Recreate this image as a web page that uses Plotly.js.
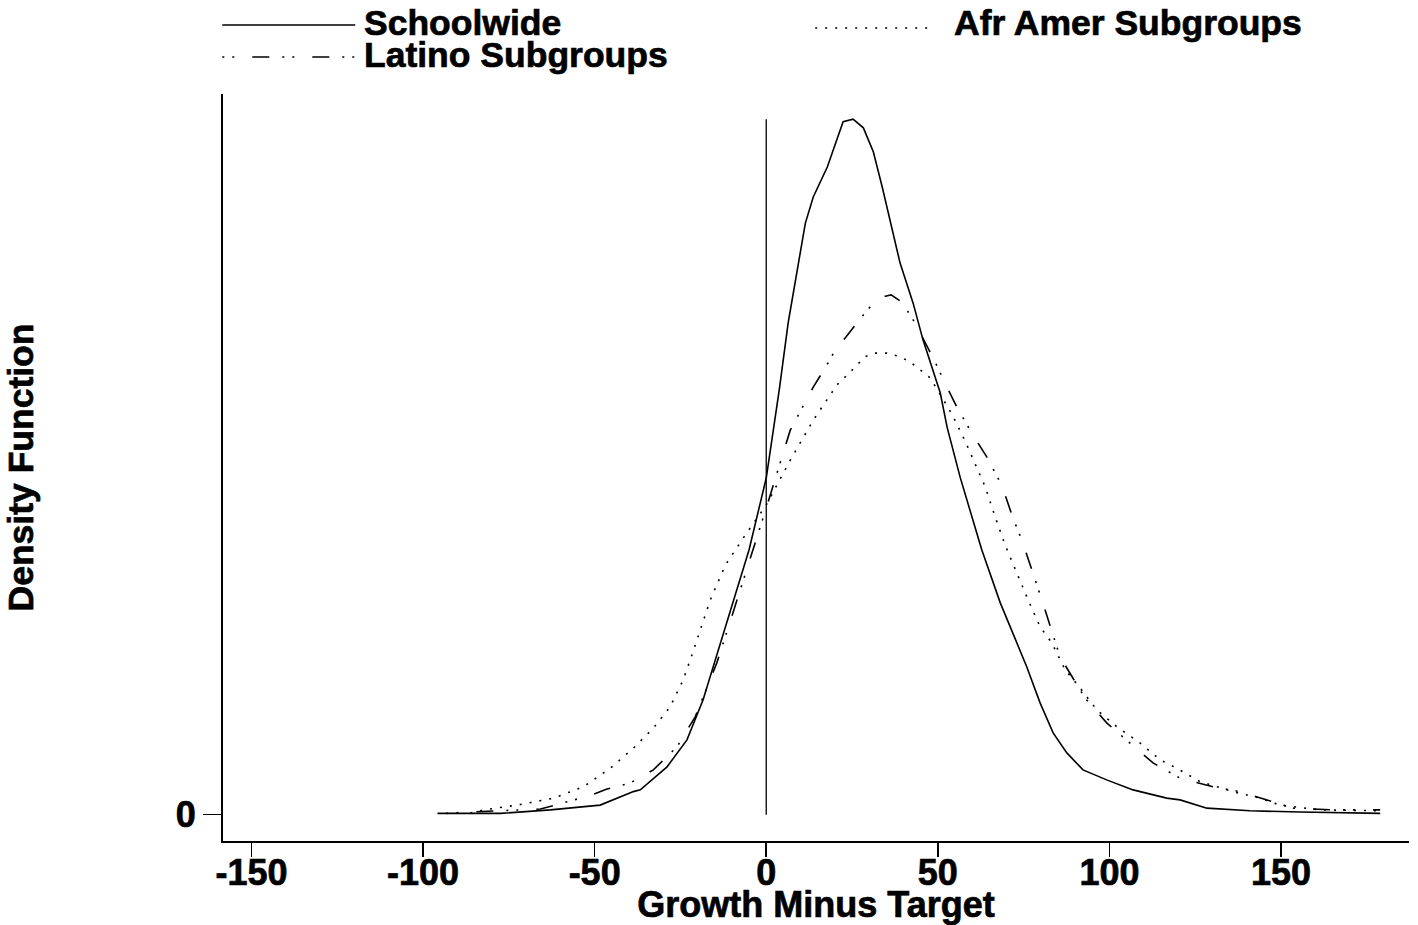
<!DOCTYPE html>
<html>
<head>
<meta charset="utf-8">
<script src="https://cdn.plot.ly/plotly-3.0.1.min.js"></script>
<style>
  html, body { margin: 0; padding: 0; background: #ffffff; }
  #chart { width: 1418px; height: 925px; }
  /* heavier lettering for all chart text */
  #chart svg text { stroke: #000000; stroke-width: 0.7px; }
</style>
</head>
<body>
<div id="chart"></div>
<script>
// Kernel density of (growth - target), by group
const schoolwideX = [-95.8, -77.5, -62.9, -50.1, -48.4, -38.7, -36.7, -28.9, -23.1, -18.4, -14.0, -9.9, -5.0, 0, 3.8, 6.4, 9.3, 11.4, 13.7, 17.8, 22.4, 25.3, 28.3, 31.2, 33.8, 36.7, 39.0, 42.8, 45.7, 50.7, 52.7, 56.5, 62.8, 68.2, 71.9, 75.9, 79.8, 83.6, 87.6, 92.3, 99.2, 106.9, 116.7, 120.6, 128.4, 141.0, 155.6, 178.9];
const schoolwideY = [0.00003, 0.00003, 0.00011, 0.00020, 0.00022, 0.00053, 0.00057, 0.00110, 0.00172, 0.00264, 0.00379, 0.00482, 0.00609, 0.00774, 0.00977, 0.01131, 0.01259, 0.01360, 0.01420, 0.01489, 0.01593, 0.01599, 0.01579, 0.01524, 0.01443, 0.01344, 0.01268, 0.01176, 0.01091, 0.00970, 0.00891, 0.00776, 0.00609, 0.00487, 0.00418, 0.00340, 0.00257, 0.00188, 0.00142, 0.00103, 0.00080, 0.00057, 0.00038, 0.00034, 0.00015, 0.00009, 0.00006, 0.00003];

const afrAmerX = [-86.2, -82.4, -72.6, -62.0, -53.3, -45.4, -38.7, -32.9, -28.0, -24.2, -21.3, -16.3, -11.9, -6.1, 0, 7.0, 13.7, 20.6, 25.0, 28.8, 31.8, 35.2, 38.1, 41.0, 43.4, 47.8, 54.1, 58.0, 61.4, 63.8, 66.7, 69.6, 76.3, 79.8, 83.2, 87.1, 91.5, 96.3, 102.2, 108.9, 114.8, 119.6, 126.4, 136.0, 143.9, 149.7, 161.4, 178.9];
const afrAmerY = [0.00004, 0.00011, 0.00022, 0.00038, 0.00064, 0.00107, 0.00153, 0.00199, 0.00248, 0.00310, 0.00375, 0.00494, 0.00574, 0.00643, 0.00712, 0.00815, 0.00907, 0.00988, 0.01022, 0.01053, 0.01061, 0.01061, 0.01055, 0.01045, 0.01032, 0.01004, 0.00921, 0.00858, 0.00797, 0.00754, 0.00685, 0.00620, 0.00494, 0.00432, 0.00395, 0.00333, 0.00291, 0.00241, 0.00202, 0.00165, 0.00126, 0.00107, 0.00076, 0.00053, 0.00038, 0.00022, 0.00011, 0.00009];

const latinoX = [-93.2, -87.2, -65.8, -51.3, -46.4, -39.6, -32.9, -26.0, -20.7, -14.4, -9.9, -5.2, 0, 7.0, 13.7, 17.7, 20.1, 23.0, 25.9, 27.9, 31.2, 34.7, 36.4, 39.0, 41.0, 43.4, 45.6, 49.2, 52.1, 55.5, 60.2, 64.3, 68.7, 71.9, 74.6, 80.3, 85.6, 92.9, 99.2, 106.0, 112.7, 120.6, 130.2, 138.1, 143.9, 153.5, 165.2, 178.9];
const latinoY = [0.00003, 0.00006, 0.00013, 0.00044, 0.00059, 0.00073, 0.00103, 0.00156, 0.00225, 0.00349, 0.00459, 0.00574, 0.00705, 0.00884, 0.00983, 0.01034, 0.01068, 0.01096, 0.01126, 0.01145, 0.01176, 0.01192, 0.01195, 0.01181, 0.01160, 0.01130, 0.01096, 0.01041, 0.00992, 0.00938, 0.00873, 0.00822, 0.00756, 0.00682, 0.00629, 0.00494, 0.00363, 0.00268, 0.00211, 0.00165, 0.00119, 0.00084, 0.00064, 0.00053, 0.00038, 0.00015, 0.00011, 0.00011];

const xTicks = [-150, -100, -50, 0, 50, 100, 150];
const seriesNames = ['Schoolwide', 'Afr Amer Subgroups', 'Latino Subgroups'];

const solidDash = 'solid';
const dotDash = '2px,8px';
const latinoDash = '2px,8px,2px,18px,17px,13px';

const heavy = { family: 'Liberation Sans, Arial, sans-serif', weight: 'bold', color: '#000000' };

const traces = [
  { x: schoolwideX, y: schoolwideY, name: seriesNames[0], mode: 'lines',
    line: { color: '#000000', width: 1.6, dash: solidDash } },
  { x: afrAmerX, y: afrAmerY, name: seriesNames[1], mode: 'lines',
    line: { color: '#000000', width: 1.6, dash: dotDash } },
  { x: latinoX, y: latinoY, name: seriesNames[2], mode: 'lines',
    line: { color: '#000000', width: 1.6, dash: latinoDash } }
];

// Legend keys drawn in paper space above the plot
function legendKey(x0, x1, y, dash) {
  return { type: 'line', xref: 'paper', yref: 'paper', x0: x0, x1: x1, y0: y, y1: y,
           line: { color: '#000000', width: 1.6, dash: dash } };
}
function legendText(x, y, text) {
  return { xref: 'paper', yref: 'paper', x: x, y: y, xanchor: 'left', yanchor: 'middle',
           text: text, showarrow: false, font: Object.assign({ size: 35.5 }, heavy) };
}

const peak = Math.max(...schoolwideY);

const layout = {
  width: 1418, height: 925,
  paper_bgcolor: '#ffffff', plot_bgcolor: '#ffffff',
  margin: { l: 223, r: 9, t: 94, b: 84 },
  showlegend: false,
  xaxis: {
    range: [-158.3, 187.3],
    tickmode: 'array', tickvals: xTicks, ticktext: xTicks.map(String),
    ticks: 'outside', ticklen: 14, tickwidth: 1.5, tickcolor: '#000000',
    showline: true, linecolor: '#000000', linewidth: 2,
    showgrid: false, zeroline: false, automargin: false,
    ticklabelstandoff: -15,
    tickfont: Object.assign({ size: 36 }, heavy),
    title: { text: 'Growth Minus Target', font: Object.assign({ size: 36 }, heavy), standoff: 0 }
  },
  yaxis: {
    range: [-0.000605, 0.016568],
    tickmode: 'array', tickvals: [0], ticktext: ['0'],
    ticks: 'outside', ticklen: 18, tickwidth: 1.5, tickcolor: '#000000',
    showline: true, linecolor: '#000000', linewidth: 2,
    showgrid: false, zeroline: false, automargin: false,
    tickfont: Object.assign({ size: 36 }, heavy),
    title: { text: 'Density Function', font: Object.assign({ size: 35.5 }, heavy), standoff: 131 }
  },
  shapes: [
    { type: 'line', xref: 'x', yref: 'y', x0: 0, x1: 0, y0: 0, y1: peak,
      line: { color: '#000000', width: 1.3 } },
    legendKey(-0.0006, 0.1115, 1.0924, solidDash),
    legendKey(-0.0006, 0.1115, 1.0495, latinoDash),
    legendKey(0.4993, 0.6004, 1.0884, dotDash)
  ],
  annotations: [
    legendText(0.1174, 1.0950, seriesNames[0]),
    legendText(0.1174, 1.0522, seriesNames[2]),
    legendText(0.6148, 1.0950, seriesNames[1])
  ]
};

Plotly.newPlot('chart', traces, layout, { displayModeBar: false, staticPlot: true });
</script>
</body>
</html>
